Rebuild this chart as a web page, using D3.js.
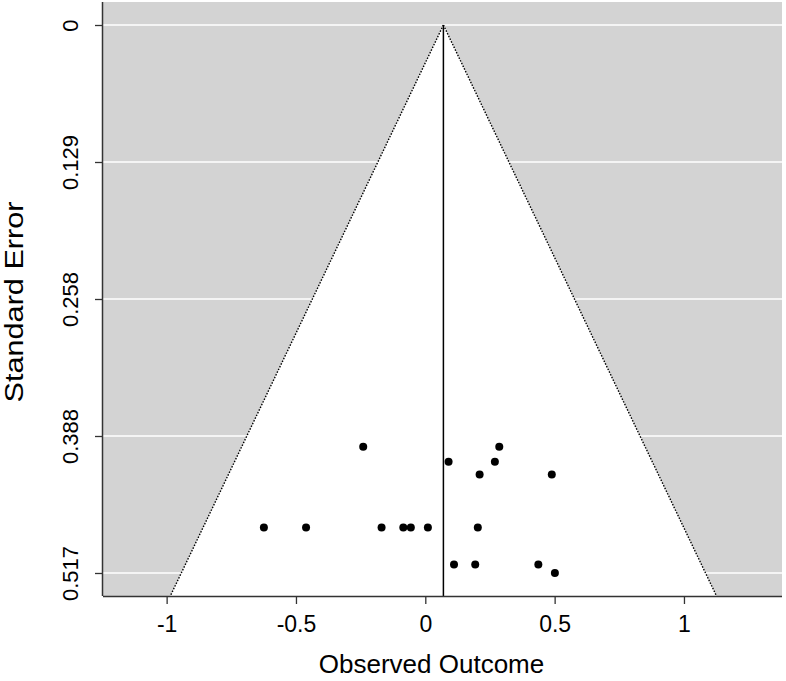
<!DOCTYPE html>
<html>
<head>
<meta charset="utf-8">
<script src="https://cdn.jsdelivr.net/npm/d3@7"></script>
<style>
  body { margin: 0; background: #fff; }
  text { font-family: "Liberation Sans", Arial, sans-serif; }
</style>
</head>
<body>
<div id="chart"></div>
<script>
'use strict';

// observed outcomes (effect sizes) and their standard errors
const yi = [-0.240, 0.286, 0.090, 0.269, 0.210, 0.489, -0.624, -0.461, -0.169,
            -0.085, -0.056, 0.010, 0.203, 0.111, 0.193, 0.437, 0.501];
const sei = [0.398, 0.398, 0.412, 0.412, 0.424, 0.424, 0.474, 0.474, 0.474,
             0.474, 0.474, 0.474, 0.474, 0.509, 0.509, 0.509, 0.517];
const estimate = 0.07;
const xTicks = [-1, -0.5, 0, 0.5, 1];
const xTickLabels = ["-1", "-0.5", "0", "0.5", "1"];
const yTicks = [0, 0.12925, 0.2585, 0.38775, 0.517];
const yTickLabels = ["0", "0.129", "0.258", "0.388", "0.517"];

const width = 786;
const height = 681;
const plotL = 103, plotR = 782, plotT = 2, plotB = 596;

const svg = d3.select("#chart").append("svg")
    .attr("width", width)
    .attr("height", height);

const x = d3.scaleLinear().domain([-1.246, 1.379]).range([plotL, plotR]);
const yMax = 0.5387;
const y = d3.scaleLinear().domain([-0.0217, yMax]).range([plotT, plotB]);

// gray background
svg.append("rect")
    .attr("x", plotL).attr("y", plotT)
    .attr("width", plotR - plotL).attr("height", plotB - plotT)
    .attr("fill", "#d3d3d3");

// white grid lines
svg.selectAll("line.grid")
    .data(yTicks)
    .join("line")
    .attr("class", "grid")
    .attr("x1", plotL).attr("x2", plotR)
    .attr("y1", d => y(d)).attr("y2", d => y(d))
    .attr("stroke", "#fff")
    .attr("stroke-width", 1.5);

// funnel region
const funnel = [[estimate, 0], [estimate + 1.96 * yMax, yMax], [estimate - 1.96 * yMax, yMax]];
svg.append("path")
    .attr("d", "M" + funnel.map(p => [x(p[0]), y(p[1])].join(",")).join("L") + "Z")
    .attr("fill", "#fff");

// dotted funnel edges
[[funnel[0], funnel[1]], [funnel[0], funnel[2]]].forEach(seg => {
    svg.append("line")
        .attr("x1", x(seg[0][0])).attr("y1", y(seg[0][1]))
        .attr("x2", x(seg[1][0])).attr("y2", y(seg[1][1]))
        .attr("stroke", "#000")
        .attr("stroke-width", 1.4)
        .attr("stroke-dasharray", "1.5,1.5");
});

// vertical line at estimate
svg.append("line")
    .attr("x1", x(estimate)).attr("x2", x(estimate))
    .attr("y1", y(0)).attr("y2", plotB)
    .attr("stroke", "#000")
    .attr("stroke-width", 1.5);

// points
svg.selectAll("circle")
    .data(yi.map((v, i) => [v, sei[i]]))
    .join("circle")
    .attr("cx", d => x(d[0]))
    .attr("cy", d => y(d[1]))
    .attr("r", 4)
    .attr("fill", "#000");

// axes
const xAxis = d3.axisBottom(x)
    .tickValues(xTicks)
    .tickFormat((d, i) => xTickLabels[i])
    .tickSizeOuter(0)
    .tickSize(8)
    .tickPadding(12);
const gx = svg.append("g")
    .attr("transform", `translate(0,${plotB})`)
    .call(xAxis);
gx.select(".domain").attr("d", `M${plotL},0.5H${plotR}`).attr("stroke", "#333").attr("stroke-width", 1.5);
gx.selectAll(".tick line").attr("stroke", "#333").attr("stroke-width", 1.3);
gx.selectAll(".tick text").attr("font-size", 23).attr("fill", "#000")
    .attr("font-family", "'Liberation Sans', Arial, sans-serif");

const yAxis = d3.axisLeft(y)
    .tickValues(yTicks)
    .tickFormat((d, i) => yTickLabels[i])
    .tickSizeOuter(0)
    .tickSize(8);
const gy = svg.append("g")
    .attr("transform", `translate(${plotL},0)`)
    .call(yAxis);
gy.select(".domain").attr("d", `M-0.5,${plotT}V${plotB}`).attr("stroke", "#333").attr("stroke-width", 1.5);
gy.selectAll(".tick line").attr("stroke", "#333").attr("stroke-width", 1.3);
gy.selectAll(".tick text")
    .attr("font-size", 22).attr("fill", "#000")
    .attr("font-family", "'Liberation Sans', Arial, sans-serif")
    .attr("x", null).attr("dy", null)
    .attr("text-anchor", "middle")
    .attr("transform", "translate(-25,0) rotate(-90)")
    .attr("y", 0);

// axis titles
svg.append("text")
    .attr("x", 431.5)
    .attr("y", 673)
    .attr("text-anchor", "middle")
    .attr("font-size", 26)
    .text("Observed Outcome");

svg.append("text")
    .attr("transform", "translate(23,302) rotate(-90)")
    .attr("text-anchor", "middle")
    .attr("font-size", 26)
    .attr("textLength", 201)
    .attr("lengthAdjust", "spacingAndGlyphs")
    .text("Standard Error");
</script>
</body>
</html>
